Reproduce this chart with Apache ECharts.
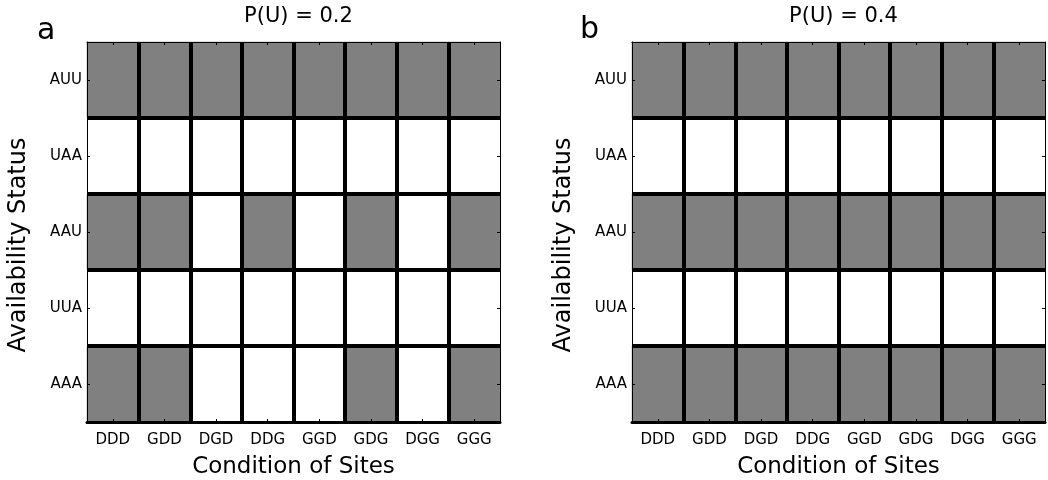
<!DOCTYPE html>
<html>
<head>
<meta charset="utf-8">
<script src="https://cdn.jsdelivr.net/npm/echarts@6/dist/echarts.min.js"></script>
<style>
  html, body { margin: 0; padding: 0; background: #fff; }
  #chart { width: 1048px; height: 480px; }
</style>
</head>
<body>
<div id="chart"></div>
<script>
// Site conditions along x, availability status along y (listed bottom to top)
const conditions = ['DDD', 'GDD', 'DGD', 'DDG', 'GGD', 'GDG', 'DGG', 'GGG'];
const statuses = ['AAA', 'UUA', 'AAU', 'UAA', 'AUU'];

// 1 = shaded cell, 0 = blank cell; one row per status, one entry per condition
// Panel a: P(U) = 0.2
const a_AAA = [1, 1, 0, 0, 0, 1, 0, 1];
const a_UUA = [0, 0, 0, 0, 0, 0, 0, 0];
const a_AAU = [1, 1, 0, 1, 0, 1, 0, 1];
const a_UAA = [0, 0, 0, 0, 0, 0, 0, 0];
const a_AUU = [1, 1, 1, 1, 1, 1, 1, 1];
// Panel b: P(U) = 0.4
const b_AAA = [1, 1, 1, 1, 1, 1, 1, 1];
const b_UUA = [0, 0, 0, 0, 0, 0, 0, 0];
const b_AAU = [1, 1, 1, 1, 1, 1, 1, 1];
const b_UAA = [0, 0, 0, 0, 0, 0, 0, 0];
const b_AUU = [1, 1, 1, 1, 1, 1, 1, 1];

const panelTitles = ['P(U) = 0.2', 'P(U) = 0.4'];
const panelLetters = ['a', 'b'];

const rowsA = [a_AAA, a_UUA, a_AAU, a_UAA, a_AUU];
const rowsB = [b_AAA, b_UUA, b_AAU, b_UAA, b_AUU];

function toCells(rows) {
  const out = [];
  rows.forEach((row, yi) => row.forEach((v, xi) => out.push([xi, yi, v])));
  return out;
}

const FONT = 'DejaVu Sans';
const grids = [
  { left: 87, top: 42, width: 413, height: 380, outerBoundsMode: 'none' },
  { left: 632, top: 42, width: 413, height: 380, outerBoundsMode: 'none' }
];

const xAxes = [], yAxes = [], series = [], titles = [], graphics = [];
[rowsA, rowsB].forEach((rows, g) => {
  // bottom axis: labels, inward ticks, interior column dividers
  xAxes.push({
    type: 'category', gridIndex: g, data: conditions, position: 'bottom', z: 5,
    name: 'Condition of Sites', nameLocation: 'middle', nameGap: 34,
    nameTextStyle: { fontFamily: FONT, fontSize: 23, color: '#000' },
    axisLine: { show: true, lineStyle: { color: '#000', width: 3 } },
    axisTick: { show: true, inside: true, alignWithLabel: true, interval: 0, length: 3, lineStyle: { color: '#000' } },
    axisLabel: { interval: 0, margin: 11, fontFamily: FONT, fontSize: 15, color: '#000' },
    splitLine: { show: true, interval: 0, showMinLine: false, showMaxLine: false, lineStyle: { color: '#000', width: 4 } }
  });
  // top frame edge with inward ticks
  xAxes.push({
    type: 'category', gridIndex: g, data: conditions, position: 'top', z: 5,
    axisLine: { show: true, lineStyle: { color: '#000', width: 1 } },
    axisTick: { show: true, inside: true, alignWithLabel: true, interval: 0, length: 3, lineStyle: { color: '#000' } },
    axisLabel: { show: false }, splitLine: { show: false }
  });
  // left axis: labels, inward ticks, interior row dividers
  yAxes.push({
    type: 'category', gridIndex: g, data: statuses, position: 'left', z: 5,
    name: 'Availability Status', nameLocation: 'middle', nameGap: 56,
    nameTextStyle: { fontFamily: FONT, fontSize: 24, color: '#000', padding: [0, 26, 0, 0] },
    axisLine: { show: true, lineStyle: { color: '#000', width: 1 } },
    axisTick: { show: true, inside: true, alignWithLabel: true, interval: 0, length: 3, lineStyle: { color: '#000' } },
    axisLabel: { interval: 0, margin: 5, fontFamily: FONT, fontSize: 15, color: '#000' },
    splitLine: { show: true, interval: 0, showMinLine: false, showMaxLine: false, lineStyle: { color: '#000', width: 4 } }
  });
  // right frame edge with inward ticks
  yAxes.push({
    type: 'category', gridIndex: g, data: statuses, position: 'right', z: 5,
    axisLine: { show: true, lineStyle: { color: '#000', width: 1 } },
    axisTick: { show: true, inside: true, alignWithLabel: true, interval: 0, length: 3, lineStyle: { color: '#000' } },
    axisLabel: { show: false }, splitLine: { show: false }
  });
  series.push({
    type: 'heatmap', xAxisIndex: g * 2, yAxisIndex: g * 2,
    data: toCells(rows), z: 2,
    itemStyle: { borderWidth: 0 },
    emphasis: { disabled: true }, label: { show: false }
  });
  const gr = grids[g];
  titles.push({
    text: panelTitles[g], left: gr.left + gr.width / 2, top: 1, textAlign: 'center',
    textStyle: { fontFamily: FONT, fontSize: 21, fontWeight: 'normal', color: '#000' }
  });
});

graphics.push(
  { type: 'text', left: 37, top: 16, style: { text: panelLetters[0], font: '30px "DejaVu Sans"', fill: '#000' } },
  { type: 'text', left: 580, top: 15, style: { text: panelLetters[1], font: '30px "DejaVu Sans"', fill: '#000' } }
);

const chart = echarts.init(document.getElementById('chart'), null, { renderer: 'canvas' });
chart.setOption({
  animation: false,
  backgroundColor: '#fff',
  title: titles,
  grid: grids,
  xAxis: xAxes,
  yAxis: yAxes,
  visualMap: {
    type: 'piecewise', show: false, seriesIndex: [0, 1], dimension: 2,
    pieces: [{ value: 0, color: '#ffffff' }, { value: 1, color: '#808080' }]
  },
  series: series,
  graphic: graphics
});
</script>
</body>
</html>
